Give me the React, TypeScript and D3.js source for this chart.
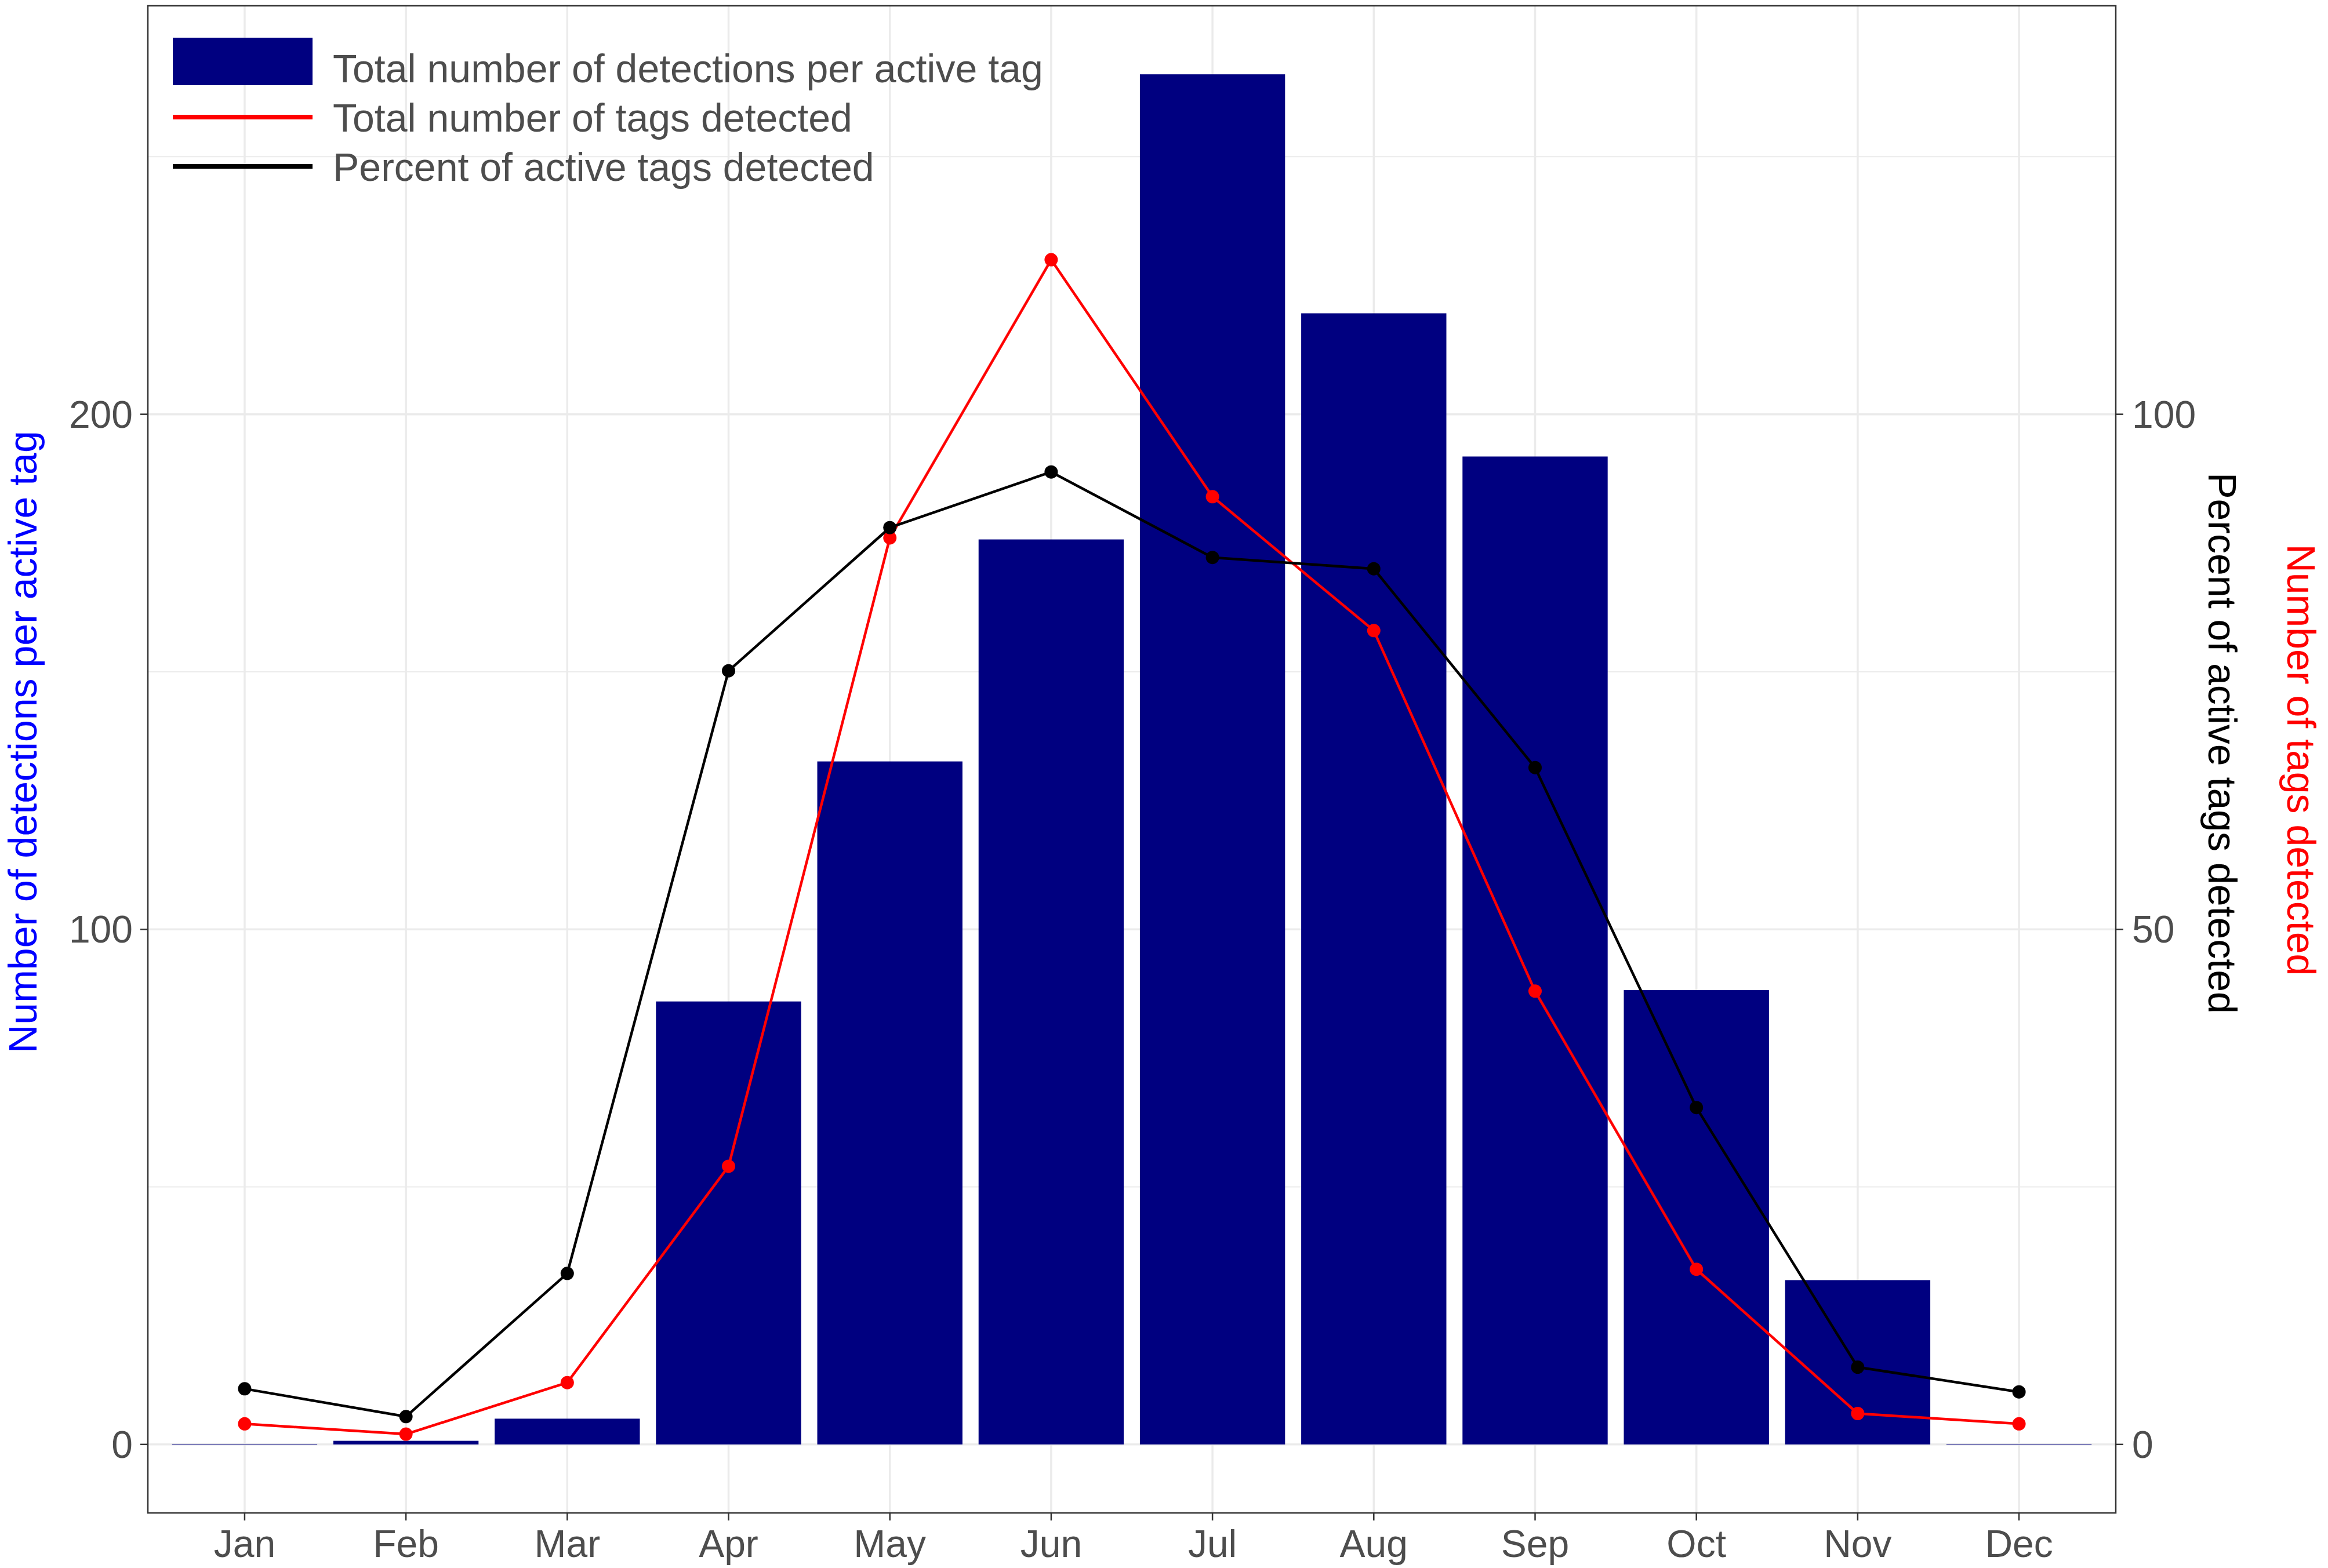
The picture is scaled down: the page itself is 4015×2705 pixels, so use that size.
import React, { useEffect, useRef } from 'react';
import * as d3 from 'd3';

const months = ['Jan', 'Feb', 'Mar', 'Apr', 'May', 'Jun', 'Jul', 'Aug', 'Sep', 'Oct', 'Nov', 'Dec'];
// detections per active tag (left axis)
const detectionsPerTag = [0.1, 0.7, 5.0, 86.0, 132.6, 175.7, 266.0, 219.6, 191.8, 88.2, 31.9, 0.1];
// right axis series (secondary axis = left / 2)
const tagsDetected = [2, 1, 6, 27, 88, 115, 92, 79, 44, 17, 3, 2];
const percentDetected = [5.4, 2.7, 16.6, 75.1, 89.0, 94.4, 86.1, 85.0, 65.7, 32.7, 7.5, 5.1];

const leftTicks = [0, 100, 200];
const leftMinor = [50, 150, 250];
const rightTicks = [0, 50, 100];

const legendLabels = [
  'Total number of detections per active tag',
  'Total number of tags detected',
  'Percent of active tags detected',
];

const W = 4015;
const H = 2705;
const FONT = 'Liberation Sans, Arial, Helvetica, sans-serif';

export default function App() {
  const ref = useRef<SVGSVGElement>(null);

  useEffect(() => {
    document.body.style.margin = '0';
    if (!ref.current) return;
    const svg = d3.select(ref.current);
    svg.selectAll('*').remove();

    const left = 255, right = 3649, top = 10, bottom = 2610;
    const secScale = 2;

    const x = d3.scalePoint<string>().domain(months).range([left, right]).padding(0.6);
    const step = x.step();
    const barW = step * 0.9;

    const maxV = d3.max([
      ...detectionsPerTag,
      ...tagsDetected.map(v => v * secScale),
      ...percentDetected.map(v => v * secScale),
    ]) as number;
    const pad = maxV * 0.05;
    const y = d3.scaleLinear().domain([-pad, maxV + pad]).range([bottom, top]);

    svg.append('rect').attr('width', W).attr('height', H).attr('fill', '#fff');

    // grid
    const grid = svg.append('g');
    leftMinor.forEach(v => {
      grid.append('line')
        .attr('x1', left).attr('x2', right).attr('y1', y(v)).attr('y2', y(v))
        .attr('stroke', '#EBEBEB').attr('stroke-width', 2);
    });
    leftTicks.forEach(v => {
      grid.append('line')
        .attr('x1', left).attr('x2', right).attr('y1', y(v)).attr('y2', y(v))
        .attr('stroke', '#EBEBEB').attr('stroke-width', 3.5);
    });
    months.forEach(m => {
      grid.append('line')
        .attr('x1', x(m)!).attr('x2', x(m)!).attr('y1', top).attr('y2', bottom)
        .attr('stroke', '#EBEBEB').attr('stroke-width', 3.5);
    });

    // bars
    svg.append('g').selectAll('rect')
      .data(detectionsPerTag)
      .join('rect')
      .attr('x', (_, i) => x(months[i])! - barW / 2)
      .attr('width', barW)
      .attr('y', d => y(d))
      .attr('height', d => y(0) - y(d))
      .attr('fill', '#000080');

    const line = d3.line<number>()
      .x((_, i) => x(months[i])!)
      .y(d => y(d * secScale));

    const drawSeries = (vals: number[], color: string) => {
      svg.append('path')
        .attr('d', line(vals)!)
        .attr('fill', 'none')
        .attr('stroke', color)
        .attr('stroke-width', 4.5)
        .attr('stroke-linejoin', 'round');
      svg.append('g').selectAll('circle')
        .data(vals)
        .join('circle')
        .attr('cx', (_, i) => x(months[i])!)
        .attr('cy', d => y(d * secScale))
        .attr('r', 11.5)
        .attr('fill', color);
    };
    drawSeries(tagsDetected, '#FF0000');
    drawSeries(percentDetected, '#000000');

    // panel border
    svg.append('rect')
      .attr('x', left).attr('y', top)
      .attr('width', right - left).attr('height', bottom - top)
      .attr('fill', 'none').attr('stroke', '#333333').attr('stroke-width', 2.5);

    // left axis
    leftTicks.forEach(v => {
      svg.append('line')
        .attr('x1', left - 13).attr('x2', left).attr('y1', y(v)).attr('y2', y(v))
        .attr('stroke', '#333333').attr('stroke-width', 2.5);
      svg.append('text')
        .attr('x', left - 26).attr('y', y(v))
        .attr('dy', '0.35em')
        .attr('text-anchor', 'end')
        .attr('font-family', FONT).attr('font-size', 66)
        .attr('fill', '#4D4D4D')
        .text(v);
    });

    // right axis
    rightTicks.forEach(v => {
      svg.append('line')
        .attr('x1', right).attr('x2', right + 13).attr('y1', y(v * secScale)).attr('y2', y(v * secScale))
        .attr('stroke', '#333333').attr('stroke-width', 2.5);
      svg.append('text')
        .attr('x', right + 28).attr('y', y(v * secScale))
        .attr('dy', '0.35em')
        .attr('text-anchor', 'start')
        .attr('font-family', FONT).attr('font-size', 66)
        .attr('fill', '#4D4D4D')
        .text(v);
    });

    // bottom axis
    months.forEach(m => {
      svg.append('line')
        .attr('x1', x(m)!).attr('x2', x(m)!).attr('y1', bottom).attr('y2', bottom + 13)
        .attr('stroke', '#333333').attr('stroke-width', 2.5);
      svg.append('text')
        .attr('x', x(m)!).attr('y', 2686)
        .attr('text-anchor', 'middle')
        .attr('font-family', FONT).attr('font-size', 66)
        .attr('fill', '#4D4D4D')
        .text(m);
    });

    // axis titles
    svg.append('text')
      .attr('transform', 'translate(63,1280) rotate(-90)')
      .attr('text-anchor', 'middle')
      .attr('font-family', FONT).attr('font-size', 68)
      .attr('fill', '#0000FF')
      .text('Number of detections per active tag');
    svg.append('text')
      .attr('transform', 'translate(3809,1282) rotate(90)')
      .attr('text-anchor', 'middle')
      .attr('font-family', FONT).attr('font-size', 68)
      .attr('fill', '#000000')
      .text('Percent of active tags detected');
    svg.append('text')
      .attr('transform', 'translate(3945,1311) rotate(90)')
      .attr('text-anchor', 'middle')
      .attr('font-family', FONT).attr('font-size', 68)
      .attr('fill', '#FF0000')
      .text('Number of tags detected');

    // legend
    const lg = svg.append('g');
    lg.append('rect')
      .attr('x', 298).attr('y', 65).attr('width', 241).attr('height', 82)
      .attr('fill', '#000080');
    lg.append('line')
      .attr('x1', 298).attr('x2', 539).attr('y1', 202).attr('y2', 202)
      .attr('stroke', '#FF0000').attr('stroke-width', 8);
    lg.append('line')
      .attr('x1', 298).attr('x2', 539).attr('y1', 287).attr('y2', 287)
      .attr('stroke', '#000000').attr('stroke-width', 8);
    const baselines = [142, 227, 312];
    legendLabels.forEach((t, i) => {
      lg.append('text')
        .attr('x', 574).attr('y', baselines[i])
        .attr('font-family', FONT).attr('font-size', 68)
        .attr('fill', '#4D4D4D')
        .text(t);
    });
  }, []);

  return <svg ref={ref} width={W} height={H} style={{ display: 'block' }} />;
}
